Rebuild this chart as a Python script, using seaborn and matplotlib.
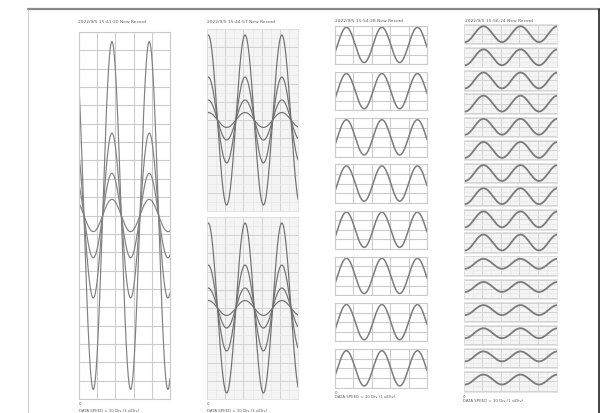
import numpy as np
import pandas as pd
import matplotlib
matplotlib.use("Agg")
import matplotlib.pyplot as plt
from matplotlib.lines import Line2D
import seaborn as sns

W, H = 611, 414

# ---------------- data (units = grid divisions) -------------
titles = ["2022/9/5 15:41:20 New Record", "2022/9/5 15:44:57 New Record",
          "2022/9/5 15:54:28 New Record", "2022/9/5 15:56:24 New Record"]
footer = "DATA SPEED = 10 Div (1 s/Div)"
origin_label = "0"

# panel 1: four traces in one tall chart
p1_amps = [9.48, 4.49, 2.30, 0.88]
p1_period = 2.05
p1_peak = 1.81

# panel 2: the same four traces, two stacked charts
p2_amps = [4.67, 2.36, 1.10, 0.41]
p2_period = 2.02
p2_peak = 0.07

# panel 3: eight single-trace charts
p3_amps = [1.83, 1.83, 1.83, 1.83, 1.83, 1.83, 1.83, 1.83]
p3_period = 1.93
p3_peak = 0.62

# panel 4: sixteen single-trace charts
p4_amps = [0.43, 0.43, 0.43, 0.43, 0.43, 0.43, 0.43, 0.43, 0.43, 0.43,
           0.27, 0.27, 0.27, 0.27, 0.27, 0.27]
p4_offsets = [0, 0, 0, 0, 0, 0, 0, 0, 0, 0, 0.1, 0.1, 0.1, 0.1, 0.1, 0.1]
p4_period = 1.99
p4_trough = 0.08

# ---------------------------------------------------------------------------------
sns.set_style("white")
plt.rcParams["font.family"] = ["DejaVu Sans"]

fig = plt.figure(figsize=(W / 100, H / 100), dpi=100)
fig.patch.set_facecolor("white")

t = np.linspace(0, 5, 600)


def wave(amp, period, peak, offset=0.0):
    return offset + amp * np.cos(2 * np.pi * (t - peak) / period)


def add_ax(x0, y0, x1, y1):
    return fig.add_axes([x0 / W, 1 - y1 / H, (x1 - x0) / W, (y1 - y0) / H])


def style_plain(ax, ylim, ystep, grid_col="#cbcbcb"):
    ax.set_xlim(0, 5)
    ax.set_ylim(*ylim)
    ax.set_xticks(np.arange(0, 5.01, 1))
    ax.set_yticks(np.arange(ylim[0], ylim[1] + 0.01, ystep))
    ax.grid(True, color=grid_col, lw=0.8)
    ax.tick_params(left=False, bottom=False, labelleft=False, labelbottom=False)
    ax.set_xlabel("")
    ax.set_ylabel("")
    for s in ax.spines.values():
        s.set_color(grid_col)
        s.set_linewidth(0.8)
    ax.set_facecolor("white")


def style_paper(ax, ylim, ymajor, yminor):
    ax.set_xlim(0, 5)
    ax.set_ylim(*ylim)
    ax.set_facecolor("#f4f4f4")
    ax.set_xticks(np.arange(0, 5.01, 1))
    ax.set_xticks(np.arange(0, 5.01, 0.5), minor=True)
    ax.set_yticks(np.concatenate([-np.arange(ymajor, -ylim[0] + 0.001, ymajor),
                                  np.arange(0, ylim[1] + 0.001, ymajor)]))
    ax.set_yticks(np.concatenate([-np.arange(yminor, -ylim[0], yminor),
                                  np.arange(0, ylim[1], yminor)]), minor=True)
    ax.grid(True, which="major", color="#d2d2d2", lw=0.7)
    ax.grid(True, which="minor", color="#e6e6e6", lw=0.5)
    ax.tick_params(which="both", left=False, bottom=False, labelleft=False, labelbottom=False)
    ax.set_xlabel("")
    ax.set_ylabel("")
    for s in ax.spines.values():
        s.set_color("#e0e0e0")
        s.set_linewidth(0.6)


# ---- panel 1 ----
ax1 = add_ax(79, 33, 170, 400)
for a in p1_amps:
    sns.lineplot(x=t, y=wave(a, p1_period, p1_peak), ax=ax1, color="#808080", lw=0.85)
style_plain(ax1, (-10, 10), 1)

# ---- panel 2 ----
for (y0, y1) in [(30, 212), (218, 400)]:
    ax2 = add_ax(207, y0, 298, y1)
    for a in p2_amps:
        sns.lineplot(x=t, y=wave(a, p2_period, p2_peak), ax=ax2, color="#707070", lw=0.85)
    style_paper(ax2, (-5, 5), 1, 0.5)

# ---- panel 3 ----
for k, a in enumerate(p3_amps):
    top = 26.7 + 46.2 * k
    ax3 = add_ax(335, top, 427, top + 38.5)
    sns.lineplot(x=t, y=wave(a, p3_period, p3_peak), ax=ax3, color="#7c7c7c", lw=1.1)
    style_plain(ax3, (-2, 2), 1)

# ---- panel 4 ----
for k, (a, off) in enumerate(zip(p4_amps, p4_offsets)):
    top = 25 + 23.15 * k
    ax4 = add_ax(463.5, top, 556.5, top + 20.3)
    sns.lineplot(x=t, y=wave(a, p4_period, p4_trough + p4_period / 2, off), ax=ax4,
                 color="#7a7a7a", lw=1.3)
    style_paper(ax4, (-0.55, 0.55), 0.5, 0.25)

# ---- texts ----
def ftext(x, y, s, size):
    fig.text(x / W, 1 - y / H, s, fontsize=size, color="#5a5a5a", va="center", ha="left")

ftext(78, 22, titles[0], 3.2)
ftext(207, 22, titles[1], 3.2)
ftext(335, 21, titles[2], 3.2)
ftext(465, 20.5, titles[3], 3.2)

for (x, y0, y1) in [(79, 404, 411), (207, 404, 411), (335, 393, 397.5), (463, 397.5, 401.5)]:
    ftext(x, y0, origin_label, 2.8)
    ftext(x, y1, footer, 2.8)

# ---- page frame ----
fig.add_artist(Line2D([28 / W, 599 / W], [1 - 10 / H, 1 - 10 / H], transform=fig.transFigure,
                      color="#8a8a8a", lw=1.6))
fig.add_artist(Line2D([599 / W, 599 / W], [1 - 10 / H, 0], transform=fig.transFigure,
                      color="#222222", lw=1.2))
fig.add_artist(Line2D([28 / W, 28 / W], [1 - 10 / H, 0], transform=fig.transFigure,
                      color="#c4c4c4", lw=0.6))

fig.savefig("out.png", dpi=100, facecolor="white")
